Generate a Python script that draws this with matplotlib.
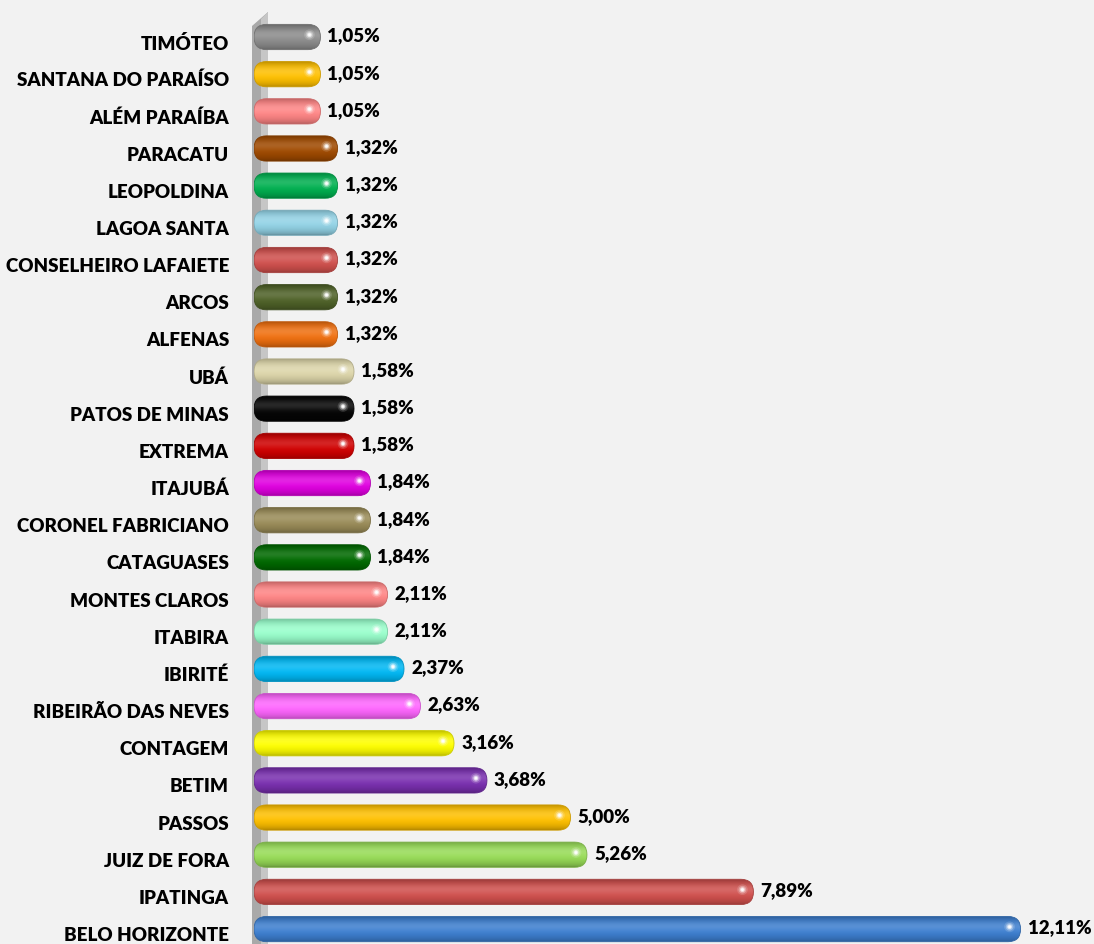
import numpy as np
import matplotlib
matplotlib.use("Agg")
from matplotlib import pyplot as plt
import matplotlib.colors as mcolors
import matplotlib.transforms as mtransforms
from matplotlib.patches import FancyBboxPatch, Polygon

# data, top to bottom as in the picture
cities = ["TIMÓTEO", "SANTANA DO PARAÍSO", "ALÉM PARAÍBA", "PARACATU", "LEOPOLDINA",
          "LAGOA SANTA", "CONSELHEIRO LAFAIETE", "ARCOS", "ALFENAS", "UBÁ",
          "PATOS DE MINAS", "EXTREMA", "ITAJUBÁ", "CORONEL FABRICIANO", "CATAGUASES",
          "MONTES CLAROS", "ITABIRA", "IBIRITÉ", "RIBEIRÃO DAS NEVES", "CONTAGEM",
          "BETIM", "PASSOS", "JUIZ DE FORA", "IPATINGA", "BELO HORIZONTE"]
values = [1.05, 1.05, 1.05, 1.32, 1.32, 1.32, 1.32, 1.32, 1.32, 1.58,
          1.58, 1.58, 1.84, 1.84, 1.84, 2.11, 2.11, 2.37, 2.63, 3.16,
          3.68, 5.00, 5.26, 7.89, 12.11]
colors = ["#8c8c8c", "#ffc000", "#ff8585", "#a04a00", "#00b050",
          "#93d3e6", "#d0504d", "#4f6228", "#f07010", "#ddd6aa",
          "#050505", "#d00000", "#e000e0", "#9a8c58", "#006a00",
          "#ff8585", "#99ffcc", "#00b8f4", "#ff66ff", "#ffff00",
          "#7a30b0", "#ffc000", "#98dc58", "#d0504d", "#3d7fd0"]

bg = "#f2f2f2"
W, H = 1094, 945
fig = plt.figure(figsize=(W / 100, H / 100), dpi=100, facecolor=bg)

x0px = 254
pxx = 63.3          # pixels per percent
row = 37.17         # pixels per row
top_c = 38
ax = fig.add_axes([x0px / W, 0, (W - x0px) / W, 1])
ax.set_facecolor("none")

# 3D wall on the left
wall = Polygon([(252 / W, 0), (268 / W, 0), (268 / W, 1 - 13 / H), (252 / W, 1 - 27 / H)],
               closed=True, facecolor="#a9a9a9", edgecolor="none", zorder=-1,
               transform=fig.transFigure)
fig.patches.append(wall)
wall2 = Polygon([(261 / W, 0), (268 / W, 0), (268 / W, 1 - 13 / H), (261 / W, 1 - 20 / H)],
                closed=True, facecolor="#c6c6c6", edgecolor="none", zorder=-1,
                transform=fig.transFigure)
fig.patches.append(wall2)


def shaded(color, n=64):
    base = np.array(mcolors.to_rgb(color))
    t = np.linspace(0, 1, n)
    k = np.sin(np.pi * t) ** 0.6
    light = 0.68 + 0.32 * k
    rgb = base[None, :] * light[:, None]
    sheen = np.exp(-((t - 0.38) / 0.2) ** 2) * 0.14
    rgb = rgb + (1 - rgb) * sheen[:, None]
    return np.clip(rgb, 0, 1)[:, None, :]


fs = 13.5
fam = "Lato"
ypos = np.arange(len(cities))
hgt = 0.68
bars = ax.barh(ypos, values, height=hgt, color="none")

up = mtransforms.offset_copy(ax.transData, fig=fig, x=0, y=2, units="dots")
rx = 12.5 / pxx
asp = (hgt / 2) / rx
for b, v, c in zip(bars, values, colors):
    bx, by, bw, bh = b.get_x(), b.get_y(), b.get_width(), b.get_height()
    b.set_visible(False)
    edge = np.array(mcolors.to_rgb(c)) * 0.8
    patch = FancyBboxPatch((bx, by), bw, bh, boxstyle=f"round,pad=0,rounding_size={rx}",
                           mutation_aspect=asp, facecolor="none", edgecolor=edge,
                           linewidth=0.6, zorder=3)
    ax.add_patch(patch)
    im = ax.imshow(shaded(c), extent=(bx, bx + bw, by + bh, by), aspect="auto",
                   interpolation="bilinear", zorder=2)
    im.set_clip_path(patch)
    # glossy highlight near the rounded end
    yc = by + bh / 2
    for s, a in [(60, 0.15), (30, 0.3), (12, 0.6), (4, 0.95)]:
        ax.scatter([bx + bw - 11 / pxx], [yc - 0.06], s=s, color="white", alpha=a,
                   edgecolors="none", zorder=4)
    lab = f"{v:.2f}".replace(".", ",") + "%"
    ax.text(bx + bw + 7 / pxx, yc, lab, va="center", ha="left", fontsize=fs,
            fontweight="heavy", family=fam, color="black", zorder=5, transform=up)

ax.set_xlim(0, (W - x0px) / pxx)
ax.set_ylim((H - top_c) / row, -top_c / row)
ax.set_yticks(ypos)
ax.set_yticklabels(cities, fontsize=fs, fontweight="heavy", family=fam)
ax.tick_params(axis="y", length=0, pad=18)
down = mtransforms.ScaledTranslation(0, -4 / 100, fig.dpi_scale_trans)
for lbl in ax.get_yticklabels():
    lbl.set_transform(lbl.get_transform() + down)
ax.set_xticks([])
for sp in ax.spines.values():
    sp.set_visible(False)

fig.savefig("out.png", dpi=100, facecolor=bg)
